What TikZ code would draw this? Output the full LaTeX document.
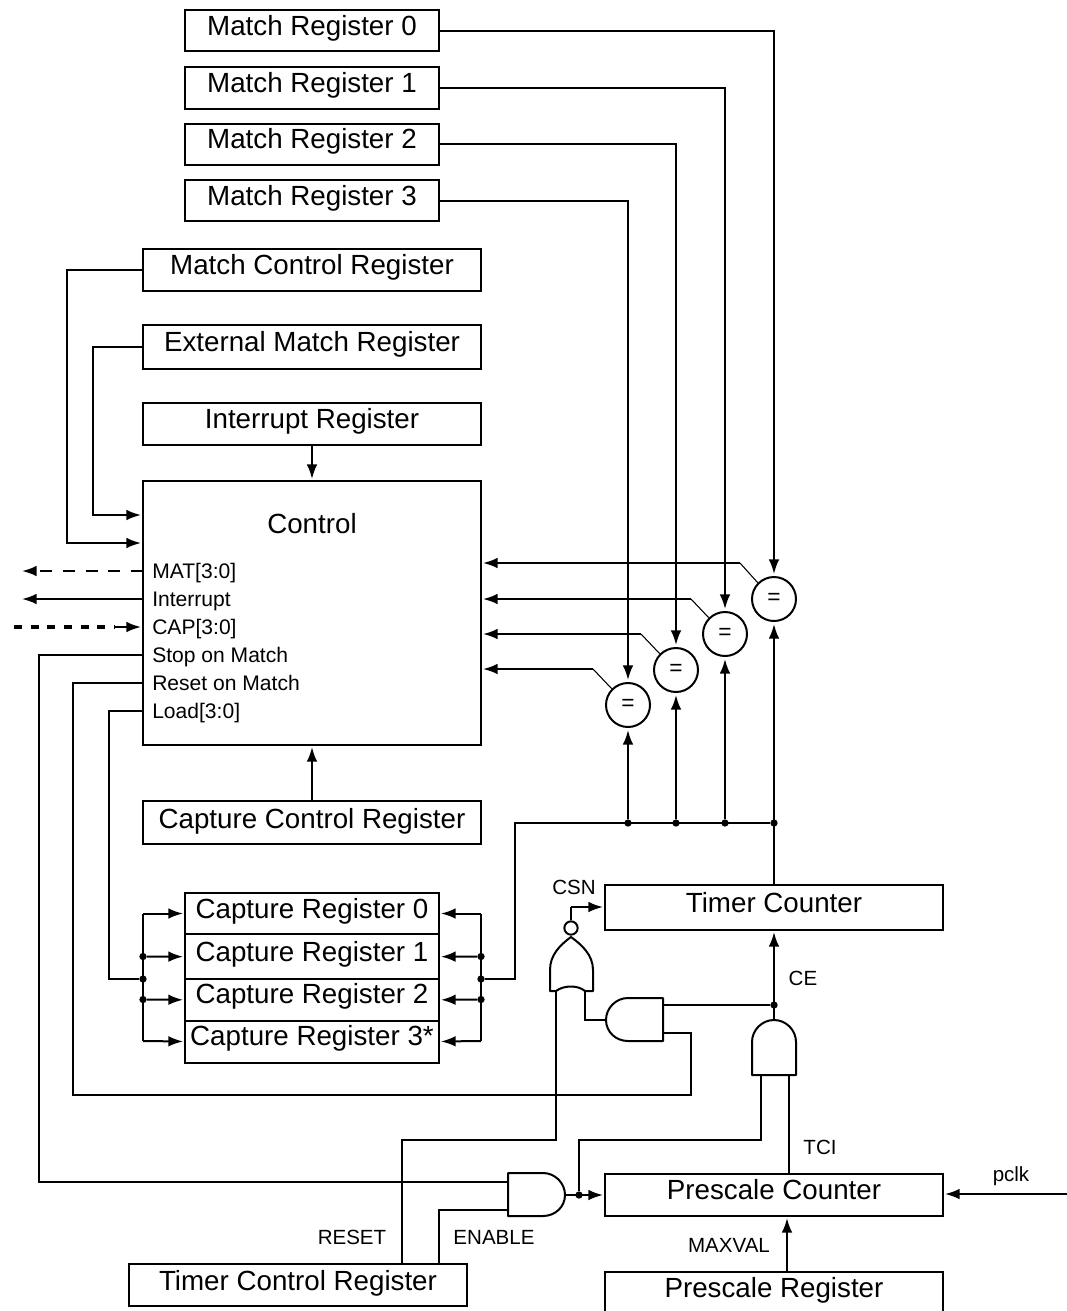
\documentclass[tikz,border=0pt]{standalone}
\usepackage{fontspec}
\setmainfont{Liberation Sans}
\usetikzlibrary{arrows.meta,positioning}
\tikzset{
  regbox/.style={rectangle, draw, fill=white, line width=1.5pt, inner sep=0pt, outer sep=0pt,
    minimum height=31pt, text height=16pt, text depth=9pt, font=\fontsize{20.8}{24}\selectfont},
  regshort/.style={regbox, minimum width=190.5pt},
  reglong/.style={regbox, minimum width=253.5pt},
  ctrlitem/.style={anchor=west, inner sep=0pt, text height=11.25pt, text depth=0pt,
    font=\fontsize{15.8}{18}\selectfont},
  siglabel/.style={inner sep=0pt, font=\fontsize{15.4}{18}\selectfont},
  cmpnode/.style={circle, draw, fill=white, line width=1.5pt, inner sep=0pt, minimum size=33pt,
    font=\fontsize{17}{20}\selectfont},
  dot/.style={circle, fill=black, inner sep=0pt, minimum size=5.5pt},
  wire/.style={line width=1.5pt},
  sig/.style={wire, shorten >=1.5pt, -{Latex[length=11pt,width=8pt]}},
  gate/.style={line width=1.5pt, fill=white, line join=round}
}
\begin{document}
\begin{tikzpicture}[x=0.75pt, y=-0.75pt]
  \path[use as bounding box, clip] (0,0) rectangle (1067,1311);
  % registers along the top
  \node[regshort] (mr0) at (312,30.5) {Match Register 0};
  \node[regshort, below=12pt of mr0] (mr1) {Match Register 1};
  \node[regshort, below=11.25pt of mr1] (mr2) {Match Register 2};
  \node[regshort, below=11.25pt of mr2] (mr3) {Match Register 3};
  \node[reglong, text depth=10pt] (mcr) at (312,270) {Match Control Register};
  \node[reglong, minimum height=33pt] (emr) at (312,347) {External Match Register};
  \node[reglong] (ir) at (312,424) {Interrupt Register};

  % control block
  \node[rectangle, draw, line width=1.5pt, inner sep=0pt, outer sep=0pt, minimum width=253.5pt,
        minimum height=198pt] (ctrl) at (312,613) {};
  \node[inner sep=0pt, font=\fontsize{20.8}{24}\selectfont] (ctrltxt) at (312,524) {Control};
  \node[ctrlitem] (mat) at (152,571) {MAT[3:0]};
  \node[ctrlitem] (intr) at (152,599) {Interrupt};
  \node[ctrlitem] (cap) at (152,627) {CAP[3:0]};
  \node[ctrlitem] (stop) at (152,655) {Stop on Match};
  \node[ctrlitem] (rst) at (152,683) {Reset on Match};
  \node[ctrlitem] (load) at (152,711) {Load[3:0]};

  \node[reglong, minimum height=32pt, text depth=7pt] (ccr) at (312,822.5) {Capture Control Register};

  % capture stack
  \node[regshort] (cr0) at (312,913.5) {Capture Register 0};
  \node[regshort, minimum height=33.75pt, below=0pt of cr0] (cr1) {Capture Register 1};
  \node[regshort, text depth=10pt, below=0pt of cr1] (cr2) {Capture Register 2};
  \node[regshort, minimum height=31.5pt, text depth=9.5pt, below=0pt of cr2] (cr3) {Capture Register 3*};

  \node[reglong, minimum height=33.75pt, text depth=8pt] (tc) at (774,907.5) {Timer Counter};
  \node[reglong, minimum height=31.5pt, text depth=10pt] (pc) at (774,1195) {Prescale Counter};
  \node[reglong] (pr) at (774,1292.5) {Prescale Register};
  \node[reglong, minimum height=31.5pt, text depth=8pt] (tcr) at (298,1285) {Timer Control Register};

  % comparators
  \node[cmpnode] (eq0) at (774,599) {=};
  \node[cmpnode] (eq1) at (725,634) {=};
  \node[cmpnode] (eq2) at (676,670) {=};
  \node[cmpnode] (eq3) at (628,705) {=};

  % match values into the comparators
  \draw[sig] (mr0.east) -| (eq0.north);
  \draw[sig] (mr1.east) -| (eq1.north);
  \draw[sig] (mr2.east) -| (eq2.north);
  \draw[sig] (mr3.east) -| (eq3.north);

  % comparator results back to control
  \coordinate (fb0) at (740,563);
  \coordinate (fb1) at (691,599);
  \coordinate (fb2) at (641,634);
  \coordinate (fb3) at (593,669);
  \draw[line width=0.8pt] (eq0.135) -- (fb0);
  \draw[line width=0.8pt] (eq1.135) -- (fb1);
  \draw[line width=0.8pt] (eq2.135) -- (fb2);
  \draw[line width=0.8pt] (eq3.135) -- (fb3);
  \draw[sig] (fb0) -- (fb0 -| ctrl.east);
  \draw[sig] (fb1) -- (fb1 -| ctrl.east);
  \draw[sig] (fb2) -- (fb2 -| ctrl.east);
  \draw[sig] (fb3) -- (fb3 -| ctrl.east);

  % into and out of control
  \coordinate (mcin) at (143,543);
  \coordinate (emin) at (143,515);
  \draw[sig] (mcr.west) -- (67,270) |- (mcin);
  \draw[sig] (emr.west) -- (93,347) |- (emin);
  \draw[sig] (ir.south) -- (ctrl.north);
  \draw[sig] (ccr.north) -- (ctrl.south);
  \coordinate (matend) at (20,571);
  \coordinate (intend) at (20,599);
  \coordinate (capend) at (14,627);
  \draw[sig, dash pattern=on 9pt off 8pt] (mat.west -| ctrl.west) -- (matend);
  \draw[sig] (intr.west -| ctrl.west) -- (intend);
  \draw[wire, line width=3pt, dash pattern=on 6pt off 6.5pt] (capend) -- (115,627);
  \draw[sig] (115,627) -- (cap.west -| ctrl.west);

  % capture buses
  \coordinate (bl0) at (143,913.5);
  \node[dot] (bl1) at (143,956.5) {};
  \node[dot] (bl2) at (143,979) {};
  \node[dot] (bl3) at (143,999.5) {};
  \coordinate (bl4) at (143,1041);
  \coordinate (br0) at (481,913.5);
  \node[dot] (br1) at (481,956.5) {};
  \node[dot] (br2) at (481,979) {};
  \node[dot] (br3) at (481,999.5) {};
  \coordinate (br4) at (481,1041);
  \draw[wire] (bl0) -- (bl4);
  \draw[wire] (br0) -- (br4);
  \draw[sig] (bl0) -- (cr0.west);
  \draw[sig] (bl1) -- (cr1.west);
  \draw[sig] (bl3) -- (cr2.west);
  \draw[sig] (bl4) -- (cr3.west);
  \draw[sig] (br0) -- (cr0.east);
  \draw[sig] (br1) -- (cr1.east);
  \draw[sig] (br3) -- (cr2.east);
  \draw[sig] (br4) -- (cr3.east);
  \draw[wire] (load.west -| ctrl.west) -- (109,711) |- (bl2);

  % timer counter value bus
  \node[dot] (tv3) at (628,823) {};
  \node[dot] (tv2) at (676,823) {};
  \node[dot] (tv1) at (725,823) {};
  \node[dot] (tv0) at (774,823) {};
  \draw[wire] (br2) -- (515,979) |- (tv0);
  \draw[sig] (tc.north) -- (eq0.south);
  \draw[sig] (tv1) -- (eq1.south);
  \draw[sig] (tv2) -- (eq2.south);
  \draw[sig] (tv3) -- (eq3.south);

  % gates
  \draw[gate] (752,1075) -- (752,1042) .. controls (752,1030) and (762,1020) .. (774,1020)
    .. controls (786,1020) and (796,1030) .. (796,1042) -- (796,1075) -- cycle;
  \draw[gate] (663,998) -- (628,998) .. controls (616,998) and (606,1008) .. (606,1020)
    .. controls (606,1032) and (616,1041) .. (628,1041) -- (663,1041) -- cycle;
  \draw[gate] (508,1173) -- (543,1173) .. controls (555,1173) and (565,1183) .. (565,1195)
    .. controls (565,1207) and (555,1216) .. (543,1216) -- (508,1216) -- cycle;
  \draw[gate] (550,991) -- (550,970) .. controls (550,955) and (560,945) .. (571,937)
    .. controls (582,945) and (593,955) .. (593,970) -- (593,991) -- (585,991)
    .. controls (578,985) and (564,985) .. (556,991) -- cycle;
  \node[circle, draw, fill=white, line width=1.5pt, inner sep=0pt, minimum size=10pt] (bub) at (571,928) {};

  % gate wiring
  \node[dot] (ce) at (774,1005) {};
  \node[dot] (en) at (579,1195) {};
  \coordinate (andin0) at (761,1075);
  \coordinate (andin1) at (789,1075);
  \coordinate (stopin) at (508,1182);
  \coordinate (enin) at (508,1210);
  \coordinate (andout) at (565,1195);
  \coordinate (rstpin) at (402,1264);
  \coordinate (enpin) at (439,1264);
  \coordinate (norin0) at (556,991);
  \coordinate (norin1) at (585,991);
  \coordinate (cmpout) at (606,1020);
  \coordinate (cmpin0) at (663,1005);
  \coordinate (cmpin1) at (663,1033);
  \coordinate (csnout) at (571,907);
  \draw[sig] (774,1020) -- (tc.south);
  \draw[wire] (cmpin0) -- (ce);
  \draw[wire] (cmpin1) -- (691,1033) |- (73,1095) |- (rst.west -| ctrl.west);
  \draw[wire] (cmpout) -| (norin1);
  \draw[wire] (norin0) |- (402,1140) -- (rstpin);
  \draw[wire] (bub.north) -- (csnout);
  \draw[sig] (csnout) -- (csnout -| tc.west);
  \draw[wire] (andin1) -- (andin1 |- pc.north);
  \draw[wire] (andin0) -- (761,1140) -| (en);
  \draw[wire] (stop.west -| ctrl.west) -- (39,655) |- (stopin);
  \draw[wire] (enpin) |- (enin);
  \draw[sig] (andout) -- (pc.west);

  % prescaler inputs
  \coordinate (pclkin) at (1067,1194);
  \draw[sig] (pclkin) -- (pclkin -| pc.east);
  \draw[sig] (787,1272) -- (787,1216);

  % signal names
  \node[siglabel] (csn) at (574,887) {CSN};
  \node[siglabel] (celbl) at (803,978) {CE};
  \node[siglabel] (tci) at (820,1147) {TCI};
  \node[siglabel] (rstlbl) at (352,1237) {RESET};
  \node[siglabel] (enlbl) at (494,1237) {ENABLE};
  \node[siglabel] (maxval) at (729,1245) {MAXVAL};
  \node[siglabel] (pclk) at (1011,1176) {pclk};
\end{tikzpicture}
\end{document}
